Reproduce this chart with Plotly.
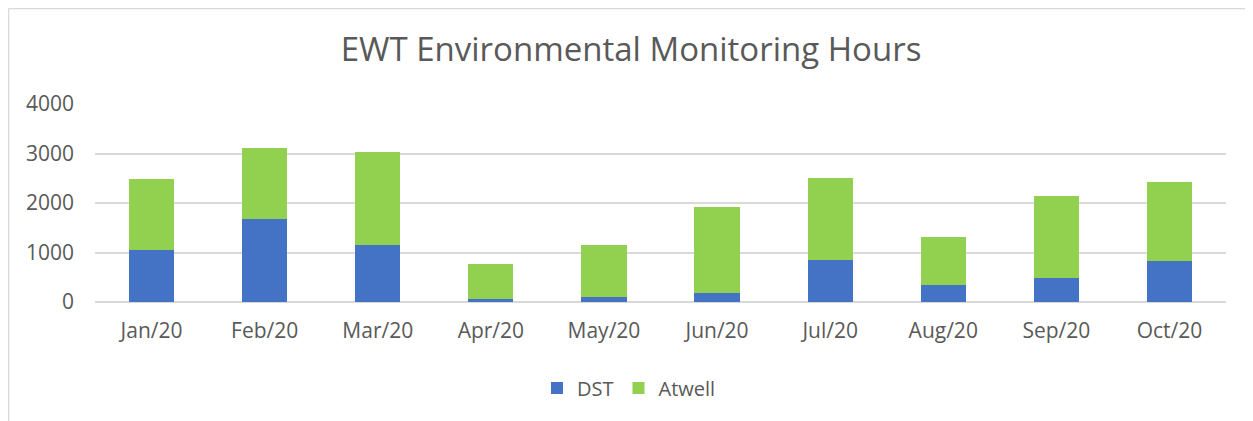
import plotly.graph_objects as go

months = ["Jan/20", "Feb/20", "Mar/20", "Apr/20", "May/20", "Jun/20", "Jul/20", "Aug/20", "Sep/20", "Oct/20"]
dst = [1060, 1670, 1145, 60, 95, 175, 848, 337, 478, 822]
atwell = [1425, 1448, 1885, 700, 1065, 1735, 1657, 969, 1670, 1602]
y_ticks = [0, 1000, 2000, 3000, 4000]

FONT = "Open Sans"
TXT = "#595959"

fig = go.Figure()
fig.add_trace(go.Bar(name="DST", x=months, y=dst, marker=dict(color="#4472C4", line=dict(width=0))))
fig.add_trace(go.Bar(name="Atwell", x=months, y=atwell, marker=dict(color="#92D050", line=dict(width=0))))

OFF = 8  # page body margin
W, H = 1253 - OFF, 421 - OFF
L, R, T, B = 95 - OFF, 1226 - OFF, 104 - OFF, 302 - OFF

def px_to_paper_x(px):
    return (px - OFF - L) / (R - L)

def px_to_paper_y(py):
    return (B - (py - OFF)) / (B - T)

fig.update_layout(
    width=W, height=H,
    barmode="stack", bargap=0.6,
    margin=dict(l=L, r=W - R, t=T, b=H - B, pad=0),
    paper_bgcolor="white", plot_bgcolor="white",
    font=dict(family=FONT, color=TXT, size=21),
    title=dict(text="EWT Environmental Monitoring Hours", x=(631 - OFF) / W, xanchor="center",
               y=1 - (49 - OFF) / H, yanchor="middle", font=dict(size=33, color=TXT, family=FONT)),
    showlegend=True,
    legend=dict(orientation="h", x=px_to_paper_x(629), xanchor="center", y=px_to_paper_y(388), yanchor="middle",
                font=dict(size=20, color=TXT), traceorder="normal", itemwidth=30),
    xaxis=dict(showgrid=False, showline=False, ticks="", tickfont=dict(size=21, color=TXT),
               ticklabelstandoff=14),
    yaxis=dict(range=[0, 4000], tickvals=y_ticks, showgrid=True, gridcolor="#D9D9D9", gridwidth=1.5,
               zeroline=True, zerolinecolor="#D9D9D9", zerolinewidth=1.5, showline=False, ticks="",
               tickfont=dict(size=21, color=TXT), ticklabelstandoff=20),
    shapes=[
        dict(type="line", xref="paper", yref="paper", x0=px_to_paper_x(8.5), x1=px_to_paper_x(1260),
             y0=px_to_paper_y(8.5), y1=px_to_paper_y(8.5), line=dict(color="#D9D9D9", width=1.5)),
        dict(type="line", xref="paper", yref="paper", x0=px_to_paper_x(8.5), x1=px_to_paper_x(8.5),
             y0=px_to_paper_y(8.5), y1=px_to_paper_y(430), line=dict(color="#D9D9D9", width=1.5)),
    ],
)

fig.write_html("out.html")
